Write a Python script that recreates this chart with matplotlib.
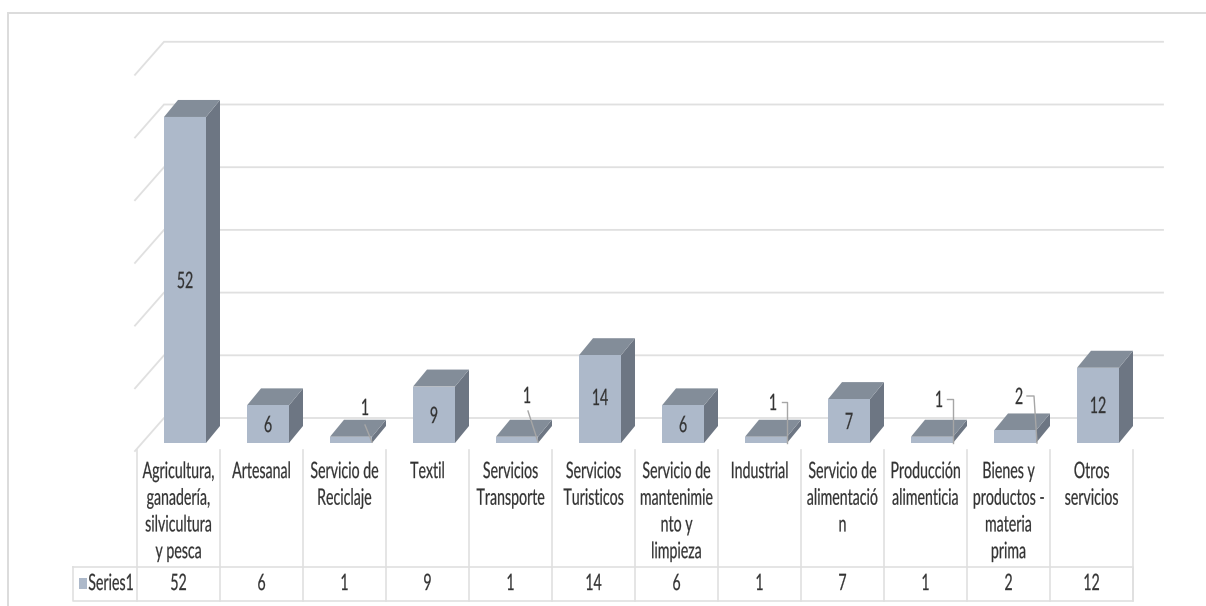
import matplotlib
matplotlib.use("Agg")
import matplotlib.pyplot as plt
from matplotlib.patches import Polygon
from matplotlib.patheffects import AbstractPathEffect
from matplotlib.transforms import Affine2D

plt.rcParams['font.family'] = ['Lato', 'DejaVu Sans']

categories = ["Agricultura,\nganadería,\nsilvicultura\ny pesca", "Artesanal", "Servicio de\nReciclaje", "Textil",
              "Servicios\nTransporte", "Servicios\nTuristicos", "Servicio de\nmantenimie\nnto y\nlimpieza", "Industrial",
              "Servicio de\nalimentació\nn", "Producción\nalimenticia", "Bienes y\nproductos -\nmateria\nprima", "Otros\nservicios"]
values = [52, 6, 1, 9, 1, 14, 6, 1, 7, 1, 2, 12]
series_name = "Series1"
grid_values = [0, 10, 20, 30, 40, 50, 60]

W, H = 1206, 606
X0, CW = 137.0, 83.0
Y0, PU = 443.0, 6.27
FS = 10.2
TALL = 1.6
TXT = "#333333"


class Tall(AbstractPathEffect):
    """Stretch each text line upright about its cap-height middle, as in the squashed original."""
    def __init__(self, k, fs_px):
        super().__init__()
        self.k = k
        self.mid = 0.36 * fs_px

    def draw_path(self, renderer, gc, tpath, affine, rgbFace=None):
        yc = affine.transform([(0, 0)])[0][1] + self.mid
        gc0 = renderer.new_gc()
        gc0.copy_properties(gc)
        gc0.set_foreground(rgbFace)
        gc0.set_linewidth(0.15)
        renderer.draw_path(gc0, tpath, affine + Affine2D().translate(0, -yc).scale(1, self.k).translate(0, yc), rgbFace)
        gc0.restore()


fig = plt.figure(figsize=(W / 100, H / 100), dpi=100)
ax = fig.add_axes([0, 0, 1, 1])
ax.set_xlim(-X0 / CW, (W - X0) / CW)
ax.set_ylim((Y0 - H) / PU, Y0 / PU)
ax.axis("off")

dx = lambda px: px / CW
dy = lambda px: px / PU
px_x = lambda p: (p - X0) / CW
px_y = lambda p: (Y0 - p) / PU
GRID = "#e0e0e0"


def label(x, y, s, va="center", **kw):
    t = ax.text(x, y, s, ha="center", va=va, fontsize=FS, color=TXT, **kw)
    t.set_path_effects([Tall(TALL, FS * 100 / 72)])
    return t


# outer border
ax.plot([px_x(8.5), px_x(8.5), px_x(1206)], [px_y(606), px_y(12.5), px_y(12.5)], color="#dcdcdc", lw=1.4,
        solid_joinstyle="miter", zorder=1)

# gridlines (back wall and side wall)
for g in grid_values:
    xs = [dx(-2), dx(27), dx(1163 - X0)]
    ys = [g + dy(-8), g + dy(25), g + dy(25)]
    ax.plot(xs, ys, color=GRID, lw=1.3, zorder=1, solid_joinstyle="miter")

# 3D bars
for i, v in enumerate(values):
    l = i + dx(27)
    r = l + dx(42)
    ox, oy = dx(14), dy(17)
    ax.add_patch(Polygon([(r, 0), (r + ox, oy), (r + ox, v + oy), (r, v)], fc="#6d7683", ec="none", zorder=3))
    ax.add_patch(Polygon([(l, v), (r, v), (r + ox, v + oy), (l + ox, v + oy)], fc="#838d99", ec="none", zorder=3))
    ax.add_patch(Polygon([(l, 0), (r, 0), (r, v), (l, v)], fc="#adb9ca", ec="none", zorder=3))

# data labels
label_px = [(185, 281), (268, 425), (365, 408), (434, 416), (527, 396), (600, 398),
            (683, 425), (773, 403), (849, 422), (939, 400), (1019, 397), (1098, 406)]
for v, (px, py) in zip(values, label_px):
    label(px_x(px), px_y(py), str(v), zorder=5)

# leader lines
leaders = [[(365, 425), (372, 442)], [(528, 411), (538, 442)],
           [(782, 402), (787, 402), (787, 443)], [(947, 399), (953, 399), (953, 443)],
           [(1027, 396), (1034, 396), (1037, 443)]]
for pts in leaders:
    ax.plot([px_x(p[0]) for p in pts], [px_y(p[1]) for p in pts], color="#a6a6a6", lw=1, zorder=4)

# data table
ROW_TOP, ROW_BOT = px_y(567), px_y(601)
AX_TOP = px_y(450)
n = len(values)
for i in range(n + 1):
    ax.plot([i, i], [AX_TOP, ROW_BOT], color=GRID, lw=1.2, zorder=1)
left = px_x(73)
ax.plot([left, n, n, left, left], [ROW_TOP, ROW_TOP, ROW_BOT, ROW_BOT, ROW_TOP], color=GRID, lw=1.2, zorder=1)
for i, (c, v) in enumerate(zip(categories, values)):
    label(i + .5, px_y(465), c, va="top", linespacing=2.47)
    label(i + .5, px_y(583), str(v))
ax.add_patch(Polygon([(px_x(79), px_y(578)), (px_x(87), px_y(578)), (px_x(87), px_y(589)), (px_x(79), px_y(589))],
                     fc="#adb9ca", ec="none", zorder=2))
label(px_x(111), px_y(583), series_name)

fig.savefig("out.png", dpi=100)
